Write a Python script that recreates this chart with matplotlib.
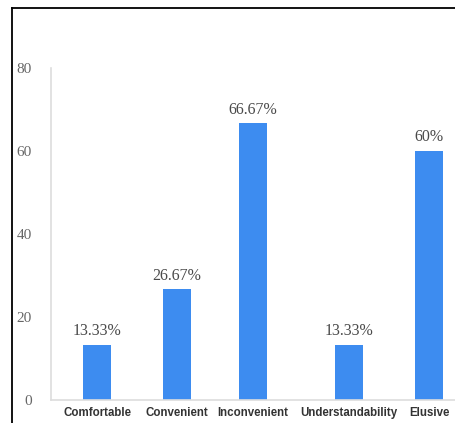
import matplotlib.pyplot as plt
from matplotlib.lines import Line2D

categories = ["Comfortable", "Convenient", "Inconvenient", "Understandability", "Elusive"]
values = [13.33, 26.67, 66.67, 13.33, 60]
value_labels = ["13.33%", "26.67%", "66.67%", "13.33%", "60%"]
yticks = [0, 20, 40, 60, 80]

# slot centres, uneven because each slot is as wide as its label
xpos = [0, 1, 1.95, 3.15, 4.15]
bar_color = "#3d8cf0"


def main():
    fig = plt.figure(figsize=(4.55, 4.23), dpi=100)
    ax = fig.add_axes([51 / 455, 1 - 400 / 423, 404 / 455, 332 / 423])

    bars = ax.bar(xpos, values, width=0.34, color=bar_color, zorder=2)
    for b, lab in zip(bars, value_labels):
        ax.annotate(lab, (b.get_x() + b.get_width() / 2, b.get_height()),
                    xytext=(0, 4), textcoords="offset points",
                    ha="center", va="bottom", fontsize=11.5,
                    family="Liberation Serif", color="#4a4a4a")

    ax.set_xlim(-0.575, 4.475)
    ax.set_ylim(0, 80)
    ax.set_yticks(yticks)
    ax.set_yticklabels([str(t) for t in yticks], family="Liberation Serif",
                       fontsize=11, color="#666666")
    ax.set_xticks(xpos)
    ax.set_xticklabels(categories, family="Liberation Sans", fontweight="bold",
                       fontsize=8.3, color="#333333")
    ax.tick_params(axis="y", length=0, pad=14)
    ax.tick_params(axis="x", length=0, pad=5)

    for s in ["top", "right"]:
        ax.spines[s].set_visible(False)
    for s in ["left", "bottom"]:
        ax.spines[s].set_color("#dddddd")
        ax.spines[s].set_linewidth(1.2)

    # black frame along the left and top edges
    fig.add_artist(Line2D([12 / 455, 12 / 455], [0, 1 - 8 / 423],
                          color="black", lw=1.3, transform=fig.transFigure))
    fig.add_artist(Line2D([12 / 455, 1], [1 - 8 / 423, 1 - 8 / 423],
                          color="black", lw=1.3, transform=fig.transFigure))

    fig.savefig("out.png", dpi=100)


if __name__ == "__main__":
    main()
